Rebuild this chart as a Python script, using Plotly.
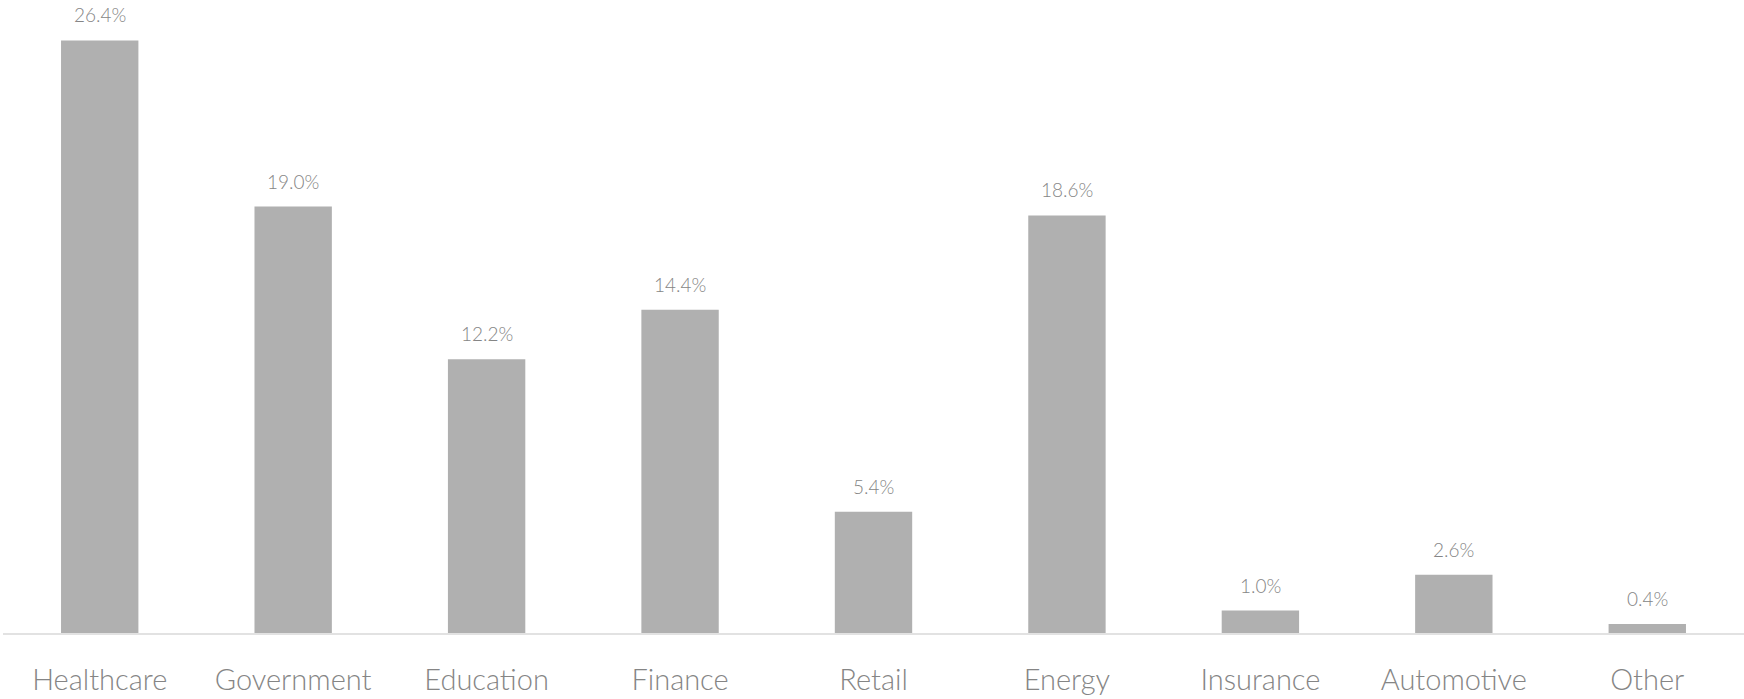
import plotly.graph_objects as go

categories = ["Healthcare", "Government", "Education", "Finance", "Retail",
              "Energy", "Insurance", "Automotive", "Other"]
shares = [26.4, 19.0, 12.2, 14.4, 5.4, 18.6, 1.0, 2.6, 0.4]

BAR_COLOR = "#b0b0b0"
TEXT_COLOR = "#858585"
FONT = "Lato"

fig = go.Figure(
    go.Bar(
        x=categories,
        y=shares,
        marker=dict(color=BAR_COLOR, line=dict(width=0)),
        hoverinfo="skip",
    )
)

# value labels sitting above each bar
for cat, val in zip(categories, shares):
    fig.add_annotation(
        x=cat, y=val, xref="x", yref="y",
        text=f"{val:.1f}%",
        showarrow=False,
        yanchor="bottom",
        yshift=12,
        font=dict(family=FONT, size=19, color=TEXT_COLOR, weight=300),
    )

fig.update_layout(
    width=1744,
    height=699,
    margin=dict(l=3, r=0, t=0, b=66),
    paper_bgcolor="white",
    plot_bgcolor="white",
    bargap=0.6,
    showlegend=False,
    xaxis=dict(
        showline=True,
        linecolor="#e2e2e2",
        linewidth=1.5,
        showgrid=False,
        ticks="",
        tickfont=dict(family=FONT, size=29, color=TEXT_COLOR, weight=300),
        ticklabelstandoff=20,
    ),
    yaxis=dict(
        range=[0, 28.2],
        visible=False,
        showgrid=False,
        zeroline=False,
    ),
)

fig.write_html("out.html")
